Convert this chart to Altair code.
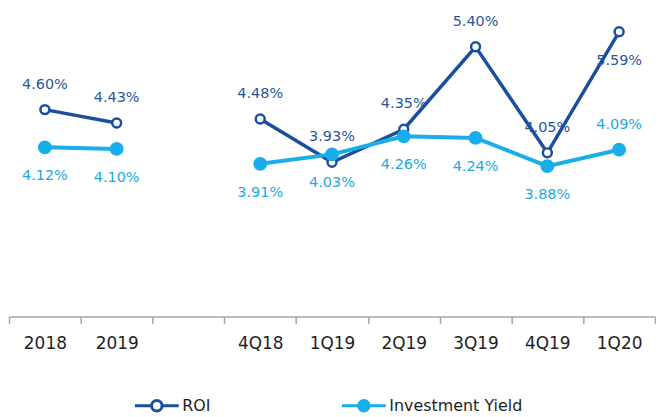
import altair as alt
import pandas as pd

categories = ["2018", "2019", " ", "4Q18", "1Q19", "2Q19", "3Q19", "4Q19", "1Q20"]
periods = ["2018", "2019", "4Q18", "1Q19", "2Q19", "3Q19", "4Q19", "1Q20"]
roi = [4.60, 4.43, 4.48, 3.93, 4.35, 5.40, 4.05, 5.59]
inv_yield = [4.12, 4.10, 3.91, 4.03, 4.26, 4.24, 3.88, 4.09]
series_names = ["ROI", "Investment Yield"]
annual_periods = ["2018", "2019"]

DARK = "#1A4F9C"
LIGHT = "#19ADEA"
DARK_TXT = "#2A5597"
LIGHT_TXT = "#1BA9E1"
FONT = "DejaVu Sans"

rows = []
for s, vals in zip(series_names, [roi, inv_yield]):
    for p, v in zip(periods, vals):
        rows.append({"period": p, "series": s, "value": v})
df = pd.DataFrame(rows)

base = alt.Chart(df).transform_calculate(
    segment="indexof(%s, datum.period) >= 0 ? 'annual' : 'quarterly'" % str(annual_periods),
    label="format(datum.value, '.2f') + '%'",
    above="(datum.series == 'ROI') != (datum.period == '1Q20')",
)

x_enc = alt.X(
    "period:N",
    sort=categories,
    scale=alt.Scale(type="band", domain=categories, paddingInner=0, paddingOuter=0),
    axis=alt.Axis(
        title=None, labelAngle=0, tickBand="extent", domainColor="#A6A6A6",
        tickColor="#A6A6A6", tickSize=7, domainWidth=1.5, tickWidth=1.5,
        labelFontSize=17, labelColor="#1E1E1E", labelFont=FONT, labelPadding=12,
        grid=False,
    ),
)
y_enc = alt.Y("value:Q", scale=alt.Scale(domain=[1.967, 5.881], nice=False, zero=False), axis=None)

stroke_scale = alt.Scale(domain=series_names, range=[DARK, LIGHT])
fill_scale = alt.Scale(domain=series_names, range=["white", LIGHT])

sym = "M-1,0L-0.24,0M0.24,0L1,0M-0.24,0A0.24,0.24,0,1,1,0.24,0A0.24,0.24,0,1,1,-0.24,0Z"
legend = alt.Legend(
    title=None, orient="none", direction="horizontal", legendX=125, legendY=375,
    symbolType=sym, symbolSize=1936, symbolStrokeWidth=3, labelFontSize=16,
    labelFont=FONT, labelColor="#1E1E1E", columnPadding=125, labelOffset=2,
)

layers = []
for s, sw, size in [("ROI", 3.5, 80), ("Investment Yield", 4, 130)]:
    sub = base.transform_filter(alt.datum.series == s)
    layers.append(
        sub.mark_line(strokeWidth=sw).encode(
            x=x_enc, y=y_enc,
            stroke=alt.Stroke("series:N", scale=stroke_scale, legend=legend),
            detail="segment:N",
        )
    )
    layers.append(
        sub.mark_point(size=size, strokeWidth=2.5, opacity=1, filled=False).encode(
            x=x_enc, y=y_enc,
            stroke=alt.Stroke("series:N", scale=stroke_scale, legend=legend),
            fill=alt.Fill("series:N", scale=fill_scale, legend=legend),
        )
    )

txt_color = alt.condition(alt.datum.series == "ROI", alt.value(DARK_TXT), alt.value(LIGHT_TXT))
above = base.transform_filter("datum.above").mark_text(dy=-25, fontSize=14.5, font=FONT).encode(
    x=x_enc, y=y_enc, text="label:N", color=txt_color
)
below = base.transform_filter("!datum.above").mark_text(dy=29, fontSize=14.5, font=FONT).encode(
    x=x_enc, y=y_enc, text="label:N", color=txt_color
)

chart = alt.layer(*layers, above, below).properties(
    width=649, height=309, padding=0
).configure_view(stroke=None)

chart.save("out.html", embed_options={"renderer": "svg", "actions": False})
